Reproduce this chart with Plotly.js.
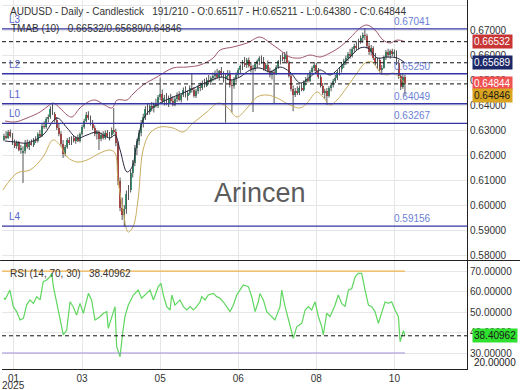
<!DOCTYPE html>
<html><head><meta charset="utf-8">
<script src="https://cdn.plot.ly/plotly-3.0.1.min.js"></script>
<style>html,body{margin:0;padding:0;background:#fff;overflow:hidden;}#wrap{position:relative;width:520px;height:390px;}#chart{width:520px;height:390px;}
#rsi20{position:absolute;left:474px;top:357px;font:10px 'Liberation Sans',Arial,sans-serif;line-height:12px;color:#222;white-space:nowrap;z-index:5;}</style>
</head><body><div id="wrap"><div id="chart"></div><div id="rsi20"></div></div>
<script>
// ---- price bars (daily) ----
const opens = [
.6262,.6278,.6270,.6292,.6278,.6250,.6236,.6252,.6222,.6210,
.6215,.6250,.6232,.6248,.6240,.6260,.6255,.6285,.6278,.6318,
.6312,.6345,.6352,.6385,.6365,.6340,.6310,.6285,.6245,.6205,
.6232,.6260,.6248,.6268,.6255,.6270,.6258,.6285,.6312,.6338,
.6362,.6350,.6325,.6310,.6285,.6292,.6265,.6282,.6270,.6290,
.6275,.6282,.6300,.6292,.6250,.6095,.5990,.5960,.5985,.6045,
.6060,.6130,.6170,.6230,.6255,.6290,.6330,.6352,.6385,.6372,
.6395,.6388,.6405,.6395,.6432,.6445,.6415,.6430,.6410,.6428,
.6418,.6402,.6425,.6440,.6420,.6442,.6462,.6438,.6450,.6468,
.6460,.6438,.6458,.6472,.6468,.6490,.6478,.6502,.6492,.6508,
.6515,.6528,.6512,.6535,.6520,.6505,.6518,.6530,.6482,.6478,
.6505,.6522,.6540,.6555,.6570,.6562,.6580,.6558,.6545,.6550,
.6565,.6575,.6588,.6572,.6545,.6560,.6538,.6520,.6532,.6528,
.6552,.6575,.6592,.6585,.6602,.6570,.6518,.6465,.6440,.6458,
.6450,.6470,.6462,.6492,.6505,.6498,.6532,.6548,.6560,.6535,
.6512,.6478,.6450,.6458,.6438,.6468,.6482,.6498,.6510,.6532,
.6545,.6562,.6578,.6590,.6605,.6598,.6625,.6638,.6630,.6658,
.6670,.6682,.6675,.6635,.6612,.6628,.6590,.6572,.6582,.6540,
.6550,.6592,.6612,.6600,.6615,.6605,.6612,.6570,.6515,.6472,
.65117];
const highs = [
.6285,.6295,.6300,.6302,.6288,.6262,.6258,.6256,.6240,.6235,
.6260,.6262,.6258,.6262,.6268,.6275,.6290,.6300,.6325,.6335,
.6352,.6362,.6395,.6408,.6372,.6352,.6325,.6295,.6260,.6240,
.6268,.6272,.6275,.6280,.6275,.6282,.6290,.6320,.6345,.6372,
.6375,.6358,.6340,.6318,.6300,.6298,.6290,.6295,.6298,.6300,
.6292,.6310,.6388,.6305,.6255,.6110,.6030,.6000,.6058,.6080,
.6140,.6180,.6240,.6265,.6300,.6340,.6365,.6395,.6405,.6402,
.6412,.6410,.6425,.6440,.6510,.6462,.6440,.6448,.6438,.6445,
.6435,.6432,.6450,.6455,.6448,.6470,.6475,.6458,.6478,.6528,
.6472,.6465,.6480,.6490,.6498,.6505,.6510,.6520,.6515,.6530,
.6538,.6545,.6540,.6552,.6535,.6528,.6540,.6538,.6500,.6512,
.6530,.6548,.6562,.6580,.6592,.6588,.6590,.6572,.6560,.6572,
.6582,.6595,.6598,.6592,.6568,.6578,.6550,.6540,.6545,.6560,
.6580,.6600,.6610,.6612,.6615,.6578,.6525,.6478,.6468,.6475,
.6478,.6488,.6498,.6512,.6525,.6540,.6555,.6572,.6568,.6548,
.6520,.6488,.6465,.6468,.6475,.6490,.6505,.6520,.6540,.6552,
.6570,.6585,.6598,.6612,.6625,.6632,.6645,.6655,.6665,.6678,
.6690,.6707,.6685,.6648,.6640,.6635,.6608,.6590,.6590,.6560,
.6598,.6620,.6625,.6622,.6625,.6622,.6618,.6580,.6528,.6525,
.65211];
const lows = [
.6255,.6262,.6265,.6270,.6240,.6228,.6225,.6215,.6205,.6088,
.6205,.6225,.6220,.6238,.6232,.6248,.6250,.6268,.6272,.6305,
.6305,.6330,.6345,.6360,.6330,.6300,.6275,.6235,.6188,.6195,
.6225,.6240,.6240,.6250,.6245,.6252,.6250,.6278,.6305,.6330,
.6340,.6318,.6300,.6275,.6262,.6220,.6255,.6262,.6262,.6268,
.6258,.6270,.6285,.6235,.6080,.5975,.5940,.5914,.5965,.6020,
.6050,.6110,.6155,.6200,.6240,.6275,.6310,.6340,.6360,.6362,
.6375,.6370,.6390,.6388,.6420,.6405,.6398,.6400,.6392,.6405,
.6395,.6395,.6412,.6415,.6410,.6432,.6430,.6418,.6440,.6450,
.6430,.6428,.6445,.6455,.6460,.6470,.6472,.6485,.6480,.6495,
.6500,.6505,.6498,.6510,.6490,.6330,.6500,.6470,.6370,.6465,
.6490,.6510,.6525,.6540,.6552,.6548,.6550,.6530,.6372,.6535,
.6548,.6560,.6565,.6538,.6535,.6530,.6510,.6502,.6405,.6520,
.6545,.6562,.6575,.6570,.6565,.6510,.6455,.6375,.6432,.6440,
.6440,.6455,.6455,.6478,.6490,.6492,.6520,.6535,.6525,.6505,
.6470,.6440,.6425,.6400,.6430,.6455,.6470,.6488,.6500,.6518,
.6530,.6548,.6560,.6575,.6585,.6590,.6610,.6618,.6622,.6645,
.6648,.6660,.6625,.6600,.6598,.6580,.6560,.6545,.6530,.6520,
.6545,.6580,.6590,.6585,.6595,.6588,.6560,.6505,.6460,.6465,
.64380];
const closes = [
.6278,.6270,.6292,.6278,.6250,.6236,.6252,.6222,.6230,.6215,
.6250,.6232,.6248,.6240,.6260,.6255,.6285,.6278,.6318,.6312,
.6345,.6352,.6385,.6365,.6340,.6310,.6285,.6245,.6205,.6232,
.6260,.6248,.6268,.6255,.6270,.6258,.6285,.6312,.6338,.6362,
.6350,.6325,.6310,.6285,.6292,.6265,.6282,.6270,.6290,.6275,
.6282,.6300,.6292,.6250,.6095,.5990,.5960,.5985,.6045,.6060,
.6130,.6170,.6230,.6255,.6290,.6330,.6352,.6385,.6372,.6395,
.6388,.6405,.6395,.6432,.6445,.6415,.6430,.6410,.6428,.6418,
.6402,.6425,.6440,.6420,.6442,.6462,.6438,.6450,.6468,.6460,
.6438,.6458,.6472,.6468,.6490,.6478,.6502,.6492,.6508,.6515,
.6528,.6512,.6535,.6520,.6505,.6518,.6530,.6482,.6478,.6505,
.6522,.6540,.6555,.6570,.6562,.6580,.6558,.6545,.6550,.6565,
.6575,.6588,.6572,.6545,.6560,.6538,.6520,.6532,.6528,.6552,
.6575,.6592,.6585,.6602,.6570,.6518,.6465,.6440,.6458,.6450,
.6470,.6462,.6492,.6505,.6498,.6532,.6548,.6560,.6535,.6512,
.6478,.6450,.6458,.6438,.6468,.6482,.6498,.6510,.6532,.6545,
.6562,.6578,.6590,.6605,.6598,.6625,.6638,.6630,.6658,.6670,
.6682,.6675,.6635,.6612,.6628,.6590,.6572,.6582,.6540,.6550,
.6592,.6612,.6600,.6615,.6605,.6612,.6570,.6515,.6472,.6512,
.64844];

// ---- TMA bands (read at sampled bars) ----
const upperIdx = [0.5,5.2,10.9,17.1,20.9,23.2,26.5,29.9,32.2,36,39.8,43.1,46.9,51.2,53.6,58.3,61.1,65.9,72.5,80.1,86.7,92.9,99.1,102.4,108.5,115.2,121.3,126.1,130.8,135.5,140.3,145,149.8,154.5,159.2,164,168.7,172,175.8,179.6,182.9,186.3,190];
const upperVal = [.6336,.6332,.6348,.6372,.6396,.6408,.6388,.6360,.6352,.6388,.6412,.6420,.6404,.6388,.6420,.6420,.6444,.6480,.6512,.6548,.6552,.6560,.6588,.6620,.6632,.6648,.6672,.6648,.6620,.6592,.6588,.6600,.6592,.6608,.6632,.6668,.6708,.6720,.6700,.6660,.6648,.6660,.66532];
const midIdx = [0.5,5.2,10.9,18.5,25.1,29.9,34.6,39.3,44.1,50.2,52.6,55,58.3,60.7,63,65.9,69.2,73.9,80.1,88.2,96.2,103.3,107.1,111.8,116.6,121.3,126.1,130.8,135.5,140.3,145,149.8,154.5,159.2,164,168.7,172.5,176.8,181.5,186.3,190];
const midVal = [.6256,.6252,.6248,.6280,.6348,.6308,.6268,.6280,.6292,.6268,.6280,.6220,.6132,.6152,.6248,.6340,.6380,.6408,.6432,.6460,.6492,.6512,.6500,.6512,.6540,.6548,.6532,.6552,.6532,.6488,.6512,.6540,.6520,.6552,.6592,.6628,.6628,.6588,.6592,.6588,.65689];
const lowerIdx = [-0.5,6.2,12.3,18.5,23.2,26.5,29.9,34.6,39.3,45.5,50.2,52.6,54,56.4,58.8,61.1,63.5,65.9,69.2,73.9,80.1,84.8,89.6,96.2,101.4,105.7,110.4,115.2,119.9,124.6,129.4,135.5,140.3,143.6,148.3,151.2,154.5,157.8,162.6,167.3,171.1,174.4,178.2,181.5,184.4,187.7,190];
const lowerVal = [.6060,.6128,.6140,.6192,.6260,.6240,.6192,.6172,.6180,.6208,.6220,.6208,.6100,.5980,.5892,.5912,.6020,.6220,.6288,.6312,.6308,.6292,.6328,.6372,.6408,.6392,.6352,.6388,.6432,.6440,.6428,.6400,.6388,.6408,.6452,.6432,.6400,.6420,.6472,.6528,.6568,.6572,.6532,.6520,.6528,.6508,.64846];

// ---- RSI (14) ----
const rsiIdx = [0,0.5,2.8,4.4,6.0,7.6,9.2,10.7,12.3,13.9,15.5,17.1,18.6,20.2,21.8,22.6,23.4,25.0,27.3,28.1,29.7,31.3,32.8,34.4,36.0,37.6,40.0,41.5,43.1,45.5,47.1,48.7,49.4,51.0,52.6,53.4,55.0,56.2,57.3,58.9,61.3,63.6,65.2,67.6,69.2,70.8,73.1,74.4,75.5,77.1,78.7,79.5,81.0,83.4,85.0,86.6,88.2,89.7,91.3,92.9,93.7,95.3,96.8,99.2,100.8,102.4,103.9,105.5,107.1,108.7,110.3,111.8,113.4,115.8,117.4,119.0,120.5,121.3,122.9,124.5,126.9,128.4,130.8,131.6,133.2,134.7,136.3,137.1,138.7,141.1,142.7,144.2,145.8,147.4,149.0,150.6,151.3,152.9,154.5,156.9,158.4,160.0,161.6,163.2,164.8,166.4,167.9,169.5,171.1,172.7,174.3,175.8,177.4,179.0,180.6,182.1,183.7,185.3,186.9,187.7,188.5,189.3,190];
const rsiVal = [57.0,56.0,60.7,52.6,50.2,46.1,46.9,53.4,55.9,54.2,57.5,55.9,64.8,65.6,67.2,68.9,62.4,54.2,42.8,38.8,41.2,55.0,52.6,48.5,54.2,49.4,59.1,55.9,46.1,47.7,49.4,50.2,42.0,46.9,52.6,33.1,28.2,39.6,47.7,53.4,58.3,60.7,56.7,59.1,60.7,55.9,62.4,64.0,58.3,52.6,51.0,58.3,53.4,55.9,52.6,51.0,52.6,51.0,52.6,55.0,57.5,55.9,58.3,59.1,57.5,56.7,55.0,52.6,50.2,53.4,58.3,60.7,63.2,62.4,57.5,50.2,55.0,59.0,55.9,50.2,47.7,46.1,52.6,60.7,52.6,46.9,39.6,37.2,42.8,44.5,51.0,52.6,51.0,55.0,47.7,42.8,38.8,49.4,47.7,53.4,58.3,54.2,52.6,60.7,61.5,67.2,68.9,68.9,60.7,53.4,52.6,50.2,44.5,50.2,55.0,54.2,55.0,51.0,47.7,35.5,38.0,40.9,38.40962];

// ---- levels and labels ----
const levelNames = ['L3','L2','L1','L0','L4'];
const levelValues = [0.67041,0.65250,0.64049,0.63267,0.59156];
const tmaNow = [0.66532,0.65689,0.64846];
const lastClose = 0.64844;
const rsiNow = 38.40962;
const priceTicks = [0.58,0.59,0.60,0.61,0.62,0.63,0.64,0.65,0.66,0.67,0.68];
const rsiTicks = [30,40,50,60,70];
const rsiBottomText = '20.00000';
const xTickIdx = [4.5,37,74,111,148,185];
const xTickText = ['01','03','05','06','08','10'];

document.getElementById('rsi20').textContent = rsiBottomText;

const barIdx = closes.map((_, i) => i);
const lastIdx = barIdx[barIdx.length - 1];

// wick segments from high/low arrays
const wx = [], wy = [];
barIdx.forEach(i => { wx.push(i, i, null); wy.push(lows[i], highs[i], null); });
// bodies from open/close arrays
const bodyBase = barIdx.map(i => Math.min(opens[i], closes[i]));
const bodyLen = barIdx.map(i => Math.max(Math.abs(closes[i] - opens[i]), 0.00012));
const bodyCol = barIdx.map(i => closes[i] >= opens[i] ? '#2fa374' : '#e43c3c');

const FONT = 'Liberation Sans, Arial, sans-serif';
const traces = [
  {type:'scatter', mode:'lines', x:wx, y:wy, xaxis:'x', yaxis:'y',
   line:{color:'#555555', width:1}, hoverinfo:'skip'},
  {type:'bar', x:barIdx, base:bodyBase, y:bodyLen, width:0.9, xaxis:'x', yaxis:'y',
   marker:{color:bodyCol, line:{width:0}}},
  {type:'scatter', mode:'lines', x:upperIdx, y:upperVal, line:{color:'#a0596e', width:1, shape:'spline'}},
  {type:'scatter', mode:'lines', x:midIdx, y:midVal, line:{color:'#26283f', width:1, shape:'spline'}},
  {type:'scatter', mode:'lines', x:lowerIdx, y:lowerVal, line:{color:'#c9ad5e', width:1, shape:'spline'}},
  {type:'scatter', mode:'lines', x:rsiIdx, y:rsiVal, xaxis:'x', yaxis:'y2', line:{color:'#5fd65f', width:1.2}}
];

const shapes = [];
levelValues.forEach(v => shapes.push({type:'line', xref:'paper', x0:0, x1:1, yref:'y', y0:v, y1:v, line:{color:'#3434a4', width:1.3}}));
tmaNow.slice(0,2).concat([lastClose]).forEach(v => shapes.push({type:'line', xref:'paper', x0:0, x1:1, yref:'y', y0:v, y1:v, line:{color:'#111', width:1, dash:'4px,3px'}}));
shapes.push({type:'line', xref:'x', x0:-0.95, x1:lastIdx, yref:'y2', y0:70, y1:70, line:{color:'#f2b54e', width:1.2}});
shapes.push({type:'line', xref:'x', x0:-0.95, x1:lastIdx, yref:'y2', y0:30, y1:30, line:{color:'#a48fdc', width:1.2}});
shapes.push({type:'line', xref:'paper', x0:0, x1:1, yref:'y2', y0:rsiNow, y1:rsiNow, line:{color:'#111', width:1, dash:'4px,3px'}});
shapes.push({type:'line', xref:'paper', x0:-0.004, x1:1.114, yref:'paper', y0:0.2940, y1:0.2940, line:{color:'#222', width:1}});

const annotations = [];
levelNames.forEach((n, k) => {
  annotations.push({xref:'paper', x:0.011, xanchor:'left', yref:'y', y:levelValues[k], yanchor:'bottom', yshift:2,
    text:n, showarrow:false, font:{family:FONT, size:10, color:'#5565c8'}});
  annotations.push({xref:'paper', x:0.839, xanchor:'left', yref:'y', y:levelValues[k], yanchor:'bottom', yshift:0,
    text:levelValues[k].toFixed(5), showarrow:false, font:{family:FONT, size:10, color:'#6b7fd4'}});
});
const boxX = 1.0108;
const boxes = [
  {v:tmaNow[0], bg:'#c73535', fg:'#ffffff', shift:0},
  {v:tmaNow[1], bg:'#1d2868', fg:'#ffffff', shift:0},
  {v:lastClose, bg:'#f05252', fg:'#ffffff', shift:0},
  {v:tmaNow[2], bg:'#d9a520', fg:'#1a1a1a', shift:-12}
];
boxes.forEach(b => annotations.push({xref:'paper', x:boxX, xanchor:'left', yref:'y', y:b.v, yanchor:'middle', yshift:b.shift,
  text:b.v.toFixed(5), showarrow:false, bgcolor:b.bg, borderpad:1, font:{family:FONT, size:10, color:b.fg}}));
annotations.push({xref:'paper', x:boxX, xanchor:'left', yref:'y2', y:rsiNow, yanchor:'middle',
  text:rsiNow.toFixed(5), showarrow:false, bgcolor:'#2fe02f', borderpad:1, font:{family:FONT, size:10, color:'#1a1a1a'}});
annotations.push({xref:'paper', x:0.013, xanchor:'left', yref:'paper', y:1, yanchor:'top', yshift:-4,
  text:'AUDUSD - Daily - Candlestick\u00a0\u00a0\u00a0191/210 - O:0.65117 - H:0.65211 - L:0.64380 - C:0.64844',
  showarrow:false, font:{family:FONT, size:10, color:'#333'}});
annotations.push({xref:'paper', x:0.015, xanchor:'left', yref:'paper', y:1, yanchor:'top', yshift:-21,
  text:'TMAB (10)\u00a0\u00a0\u00a0' + tmaNow.map(v => v.toFixed(5)).join('/'),
  showarrow:false, font:{family:FONT, size:10, color:'#333'}});
annotations.push({xref:'paper', x:0.013, xanchor:'left', yref:'paper', y:0.2927, yanchor:'top', yshift:-5,
  text:'RSI (14, 70, 30)\u00a0\u00a0\u00a0' + rsiNow.toFixed(5),
  showarrow:false, font:{family:FONT, size:10, color:'#333'}});
annotations.push({xref:'x', x:xTickIdx[0], xanchor:'center', yref:'paper', y:0, yanchor:'top', yshift:-9,
  text:'2025', showarrow:false, font:{family:FONT, size:10, color:'#333'}});
annotations.push({xref:'paper', x:0.555, xanchor:'center', yref:'y', y:0.6048, yanchor:'middle',
  text:'Arincen', showarrow:false, font:{family:FONT, size:27, color:'#5c5c5c'}});

const axisCommon = {ticks:'', zeroline:false, tickfont:{size:10, color:'#333'}};
const layout = {
  width:520, height:390, margin:{l:2, r:53, t:0, b:21},
  paper_bgcolor:'#ffffff', plot_bgcolor:'#ffffff', showlegend:false, bargap:0,
  font:{family:FONT, size:10, color:'#222'},
  xaxis:Object.assign({anchor:'y2', type:'linear', range:[-0.95, 219.4],
    tickvals:xTickIdx, ticktext:xTickText, showgrid:true, gridcolor:'#e6e6e6',
    showline:true, linecolor:'#222', linewidth:1}, axisCommon),
  yaxis:Object.assign({domain:[0.2954, 1], side:'right', anchor:'x', range:[0.578, 0.682], tickvals:priceTicks,
    ticktext:priceTicks.map(v => v.toFixed(5)), showgrid:true, gridcolor:'#e6e6e6',
    showline:true, linecolor:'#222', linewidth:1}, axisCommon),
  yaxis2:Object.assign({domain:[0, 0.2927], side:'right', anchor:'x', range:[22.2, 74.9], tickvals:rsiTicks,
    ticktext:rsiTicks.map(v => v.toFixed(5)), showgrid:true, gridcolor:'#e6e6e6',
    showline:true, linecolor:'#222', linewidth:1}, axisCommon),
  shapes:shapes, annotations:annotations
};
Plotly.newPlot('chart', traces, layout, {staticPlot:true, displayModeBar:false});
</script></body></html>
